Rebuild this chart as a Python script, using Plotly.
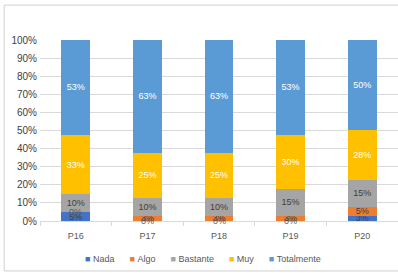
import plotly.graph_objects as go

categories = ["P16", "P17", "P18", "P19", "P20"]
series_names = ["Nada", "Algo", "Bastante", "Muy", "Totalmente"]
nada = [5, 0, 0, 0, 3]
algo = [0, 3, 3, 3, 5]
bastante = [10, 10, 10, 15, 15]
muy = [33, 25, 25, 30, 28]
totalmente = [53, 63, 63, 53, 50]
y_ticks = [0, 10, 20, 30, 40, 50, 60, 70, 80, 90, 100]

colors = ["#4472C4", "#ED7D31", "#A5A5A5", "#FFC000", "#5B9BD5"]
text_colors = ["#404040", "#404040", "#404040", "white", "white"]
values = [nada, algo, bastante, muy, totalmente]
FONT = "Liberation Sans"

fig = go.Figure()
for name, vals, c, tc in zip(series_names, values, colors, text_colors):
    fig.add_trace(go.Bar(
        x=categories, y=vals, name=name, marker_color=c,
        marker_line_width=0,
        text=[f"{v}%" for v in vals], textposition="inside",
        insidetextanchor="middle", constraintext="none",
        textfont=dict(color=tc, size=9, family=FONT),
        textangle=0, showlegend=False,
    ))

# labels for zero-height segments (plotly does not draw text on empty bars)
totals = [sum(v[i] for v in values) for i in range(len(categories))]
for s, vals in enumerate(values):
    for i, v in enumerate(vals):
        if v == 0:
            below = sum(values[k][i] for k in range(s))
            fig.add_annotation(x=categories[i], y=below / totals[i] * 100, text="0%",
                               showarrow=False, xref="x", yref="y",
                               font=dict(size=9, color="#595959", family=FONT))

# compact Excel-style legend
legend_html = "&nbsp;&nbsp;&nbsp;&nbsp;&nbsp;&nbsp;".join(
    f"<span style='color:{c}'>■</span>&nbsp;{n}" for n, c in zip(series_names, colors))
fig.add_annotation(x=0.455, y=-0.21, xref="paper", yref="paper", text=legend_html,
                   showarrow=False, xanchor="center", yanchor="middle",
                   font=dict(size=9, color="#595959", family=FONT))

fig.update_layout(
    barmode="stack", barnorm="percent",
    width=398, height=273,
    margin=dict(l=40, r=0, t=40, b=52),
    plot_bgcolor="white", paper_bgcolor="white",
    bargap=0.6,
    uniformtext=dict(minsize=9, mode="show"),
    font=dict(family=FONT, size=10, color="#595959"),
    showlegend=False,
)
fig.update_yaxes(range=[0, 100], tickvals=y_ticks, ticktext=[f"{t}%" for t in y_ticks],
                 showgrid=True, gridcolor="#D9D9D9", gridwidth=1, zeroline=False,
                 tickfont=dict(size=10, color="#404040"), ticks="", ticklabelstandoff=2)
fig.update_xaxes(showline=True, linecolor="#D9D9D9", ticks="outside", tickson="boundaries",
                 ticklen=4, tickcolor="#D9D9D9", ticklabelstandoff=6,
                 tickfont=dict(size=9, color="#595959"))
fig.add_shape(type="rect", xref="paper", yref="paper", x0=-0.1, x1=1.05, y0=-0.276, y1=1.193,
              line=dict(color="#D0D0D0", width=1), layer="above")
fig.write_html("out.html", config={"displayModeBar": False},
               post_script="document.body.style.margin='0';")
